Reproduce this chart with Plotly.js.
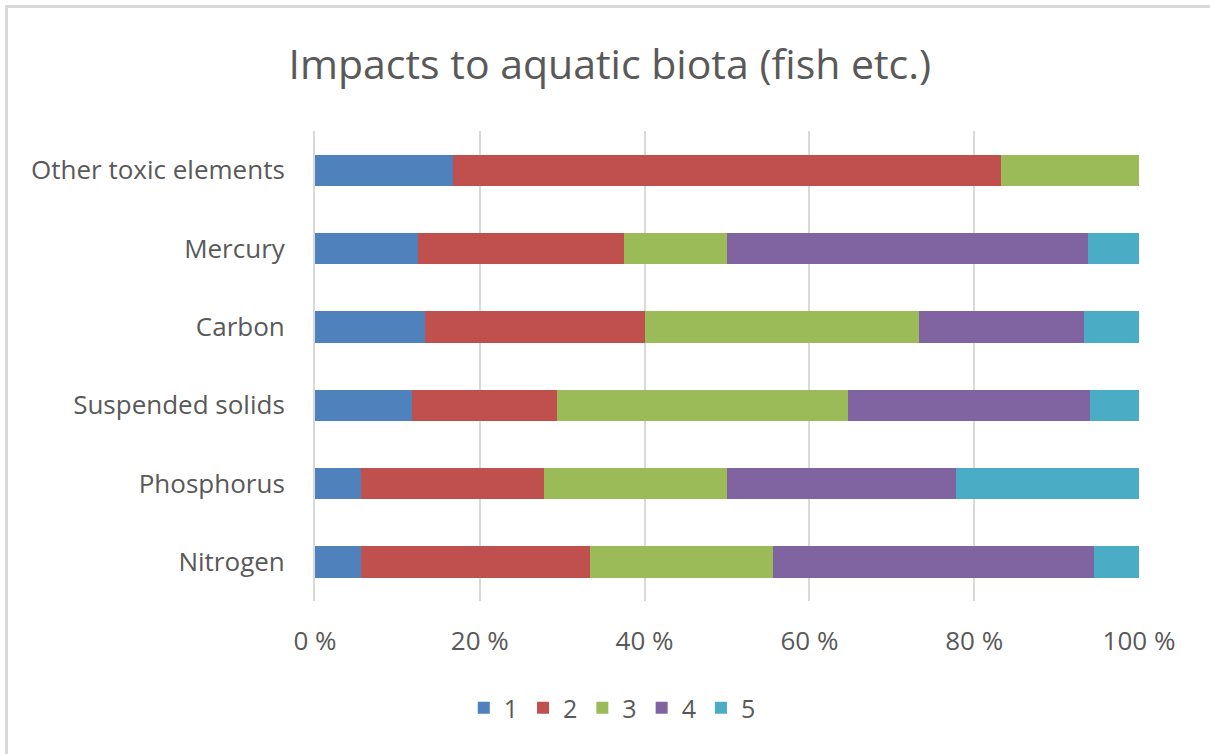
<!DOCTYPE html>
<html>
<head>
<meta charset="utf-8">
<script src="https://cdn.plot.ly/plotly-3.0.1.min.js"></script>
<style>
html,body{margin:0;padding:0;background:#fff;}
#frame{position:absolute;left:5px;top:5px;width:1300px;height:900px;border-top:3px solid #d9d9d9;border-left:3px solid #d9d9d9;box-sizing:border-box;}
#chart{position:absolute;left:0;top:0;width:1210px;height:754px;}
</style>
</head>
<body>
<div id="frame"></div>
<div id="chart"></div>
<script>
const categories = ["Nitrogen", "Phosphorus", "Suspended solids", "Carbon", "Mercury", "Other toxic elements"];
const seriesNames = ["1", "2", "3", "4", "5"];
const s1 = [5.6, 5.6, 11.8, 13.3, 12.5, 16.7];
const s2 = [27.8, 22.2, 17.6, 26.7, 25.0, 66.6];
const s3 = [22.2, 22.2, 35.3, 33.3, 12.5, 16.7];
const s4 = [38.9, 27.8, 29.4, 20.0, 43.75, 0];
const s5 = [5.5, 22.2, 5.9, 6.7, 6.25, 0];
const colors = ["#4f81bd", "#c0504d", "#9bbb59", "#8064a2", "#4bacc6"];
const tickVals = [0, 20, 40, 60, 80, 100];

const seriesVals = [s1, s2, s3, s4, s5];
const FONT = "'Open Sans', Lato, sans-serif";
const data = seriesVals.map((v, i) => ({
  type: "bar",
  orientation: "h",
  name: seriesNames[i],
  y: categories,
  x: v,
  marker: {color: colors[i], line: {width: 0}},
  hoverinfo: "x+y+name"
}));

const layout = {
  width: 1210, height: 754,
  paper_bgcolor: "rgba(0,0,0,0)",
  plot_bgcolor: "rgba(0,0,0,0)",
  barmode: "stack",
  bargap: 0.6,
  margin: {l: 315, r: 71, t: 131, b: 153},
  font: {family: FONT, color: "#595959", size: 26},
  title: {text: "Impacts to aquatic biota (fish etc.)", x: 0.504, xref: "container", y: 0.914, yref: "container", xanchor: "center", yanchor: "middle", font: {family: FONT, size: 41, color: "#595959"}},
  xaxis: {range: [0, 100], tickvals: tickVals, ticktext: tickVals.map(v => v + " %"), showgrid: true, gridcolor: "#d9d9d9", gridwidth: 2, zeroline: false, showline: false, ticks: "outside", ticklen: 17, tickcolor: "rgba(0,0,0,0)", tickfont: {size: 26, color: "#595959"}, fixedrange: true},
  yaxis: {categoryorder: "array", categoryarray: categories, showgrid: false, zeroline: false, showline: true, linecolor: "#d9d9d9", linewidth: 2, ticks: "outside", ticklen: 23, tickcolor: "rgba(0,0,0,0)", tickfont: {size: 26, color: "#595959"}, fixedrange: true},
  legend: {orientation: "h", x: 0.506, xref: "container", xanchor: "center", y: 0.061, yref: "container", yanchor: "middle", font: {size: 25, color: "#595959"}, itemwidth: 30, traceorder: "normal"},
  showlegend: true
};

Plotly.newPlot("chart", data, layout, {displayModeBar: false, staticPlot: false});
</script>
</body>
</html>
